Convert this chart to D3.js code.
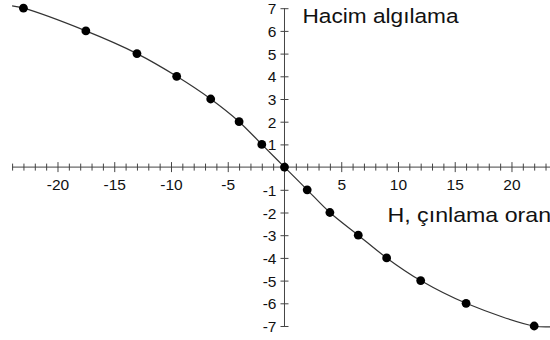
<!DOCTYPE html>
<html>
<head>
<meta charset="utf-8">
<script src="https://cdn.jsdelivr.net/npm/d3@7"></script>
<style>
  html, body { margin: 0; padding: 0; background: #fff; }
  svg { display: block; font-family: "Liberation Sans", Arial, sans-serif; }
</style>
</head>
<body>
<svg id="chart" width="550" height="340"></svg>
<script>
// Measured points: chirp rate H against perceived volume
const hValues = [-23, -17.5, -13, -9.5, -6.5, -4, -2, 0, 2, 4, 6.5, 9, 12, 16, 22];
const volumeValues = [7, 6, 5, 4, 3, 2, 1, 0, -1, -2, -3, -4, -5, -6, -7];
// Curve continues a little past the outer points
const curveStart = [-24, 7.1];
const curveEnd = [23.6, -7.03];
const xTickValues = d3.range(-24, 24);
const xTickLabels = [-20, -15, -10, -5, 5, 10, 15, 20];
const yTickValues = [-7, -6, -5, -4, -3, -2, -1, 1, 2, 3, 4, 5, 6, 7];
const yAxisTitle = "Hacim algılama";
const xAxisTitle = "H, çınlama oranı";

const svg = d3.select("#chart");
const x = d3.scaleLinear().domain([-24, 23.5]).range([12.1, 551.2]);
const y = d3.scaleLinear().domain([-7, 7]).range([326, 8.2]);

const axisColor = "#444";

// Horizontal axis through y = 0
const xAxis = svg.append("g")
  .attr("transform", `translate(0,${y(0)})`)
  .call(d3.axisBottom(x)
    .tickValues(xTickValues)
    .tickSize(0)
    .tickFormat(d => xTickLabels.includes(d) ? String(d) : ""));
xAxis.select(".domain").remove();
xAxis.append("line")
  .attr("x1", x(-24)).attr("x2", 550)
  .attr("stroke", axisColor).attr("stroke-width", 1);
xAxis.selectAll(".tick line")
  .attr("y1", d => d % 5 === 0 ? -5 : -3.5)
  .attr("y2", d => d % 5 === 0 ? 5 : 3.5)
  .attr("stroke", axisColor);
xAxis.selectAll(".tick text")
  .attr("y", 12)
  .attr("dy", "0.71em")
  .attr("font-size", 15.5)
  .attr("fill", "#111");

// Vertical axis through x = 0
const yAxis = svg.append("g")
  .attr("transform", `translate(${x(0)},0)`)
  .call(d3.axisLeft(y).tickValues(yTickValues).tickSize(0).tickFormat(d => String(d)));
yAxis.select(".domain").remove();
yAxis.append("line")
  .attr("y1", y(7)).attr("y2", y(-7))
  .attr("stroke", axisColor).attr("stroke-width", 1);
yAxis.selectAll(".tick line")
  .attr("x1", -4).attr("x2", 4)
  .attr("stroke", axisColor);
yAxis.selectAll(".tick text")
  .attr("x", -8)
  .attr("dy", "0.36em")
  .attr("font-size", 15.5)
  .attr("fill", "#111");

// Smooth response curve
const curvePts = [curveStart, ...hValues.map((h, i) => [h, volumeValues[i]]), curveEnd];
svg.append("path")
  .datum(curvePts)
  .attr("fill", "none")
  .attr("stroke", "#333")
  .attr("stroke-width", 1.2)
  .attr("d", d3.line()
    .x(d => x(d[0]))
    .y(d => y(d[1]))
    .curve(d3.curveCatmullRom.alpha(0.5)));

// Data points
svg.append("g")
  .selectAll("circle")
  .data(hValues.map((h, i) => ({ h, v: volumeValues[i] })))
  .join("circle")
  .attr("cx", d => x(d.h))
  .attr("cy", d => y(d.v))
  .attr("r", 4.4)
  .attr("fill", "#000");

// Axis titles
svg.append("text")
  .attr("x", 302.5)
  .attr("y", 23.3)
  .attr("font-size", 20.5)
  .attr("textLength", 156)
  .attr("lengthAdjust", "spacingAndGlyphs")
  .attr("fill", "#111")
  .text(yAxisTitle);
svg.append("text")
  .attr("x", 387.5)
  .attr("y", 221.7)
  .attr("font-size", 21)
  .attr("textLength", 170)
  .attr("lengthAdjust", "spacingAndGlyphs")
  .attr("fill", "#111")
  .text(xAxisTitle);
</script>
</body>
</html>
